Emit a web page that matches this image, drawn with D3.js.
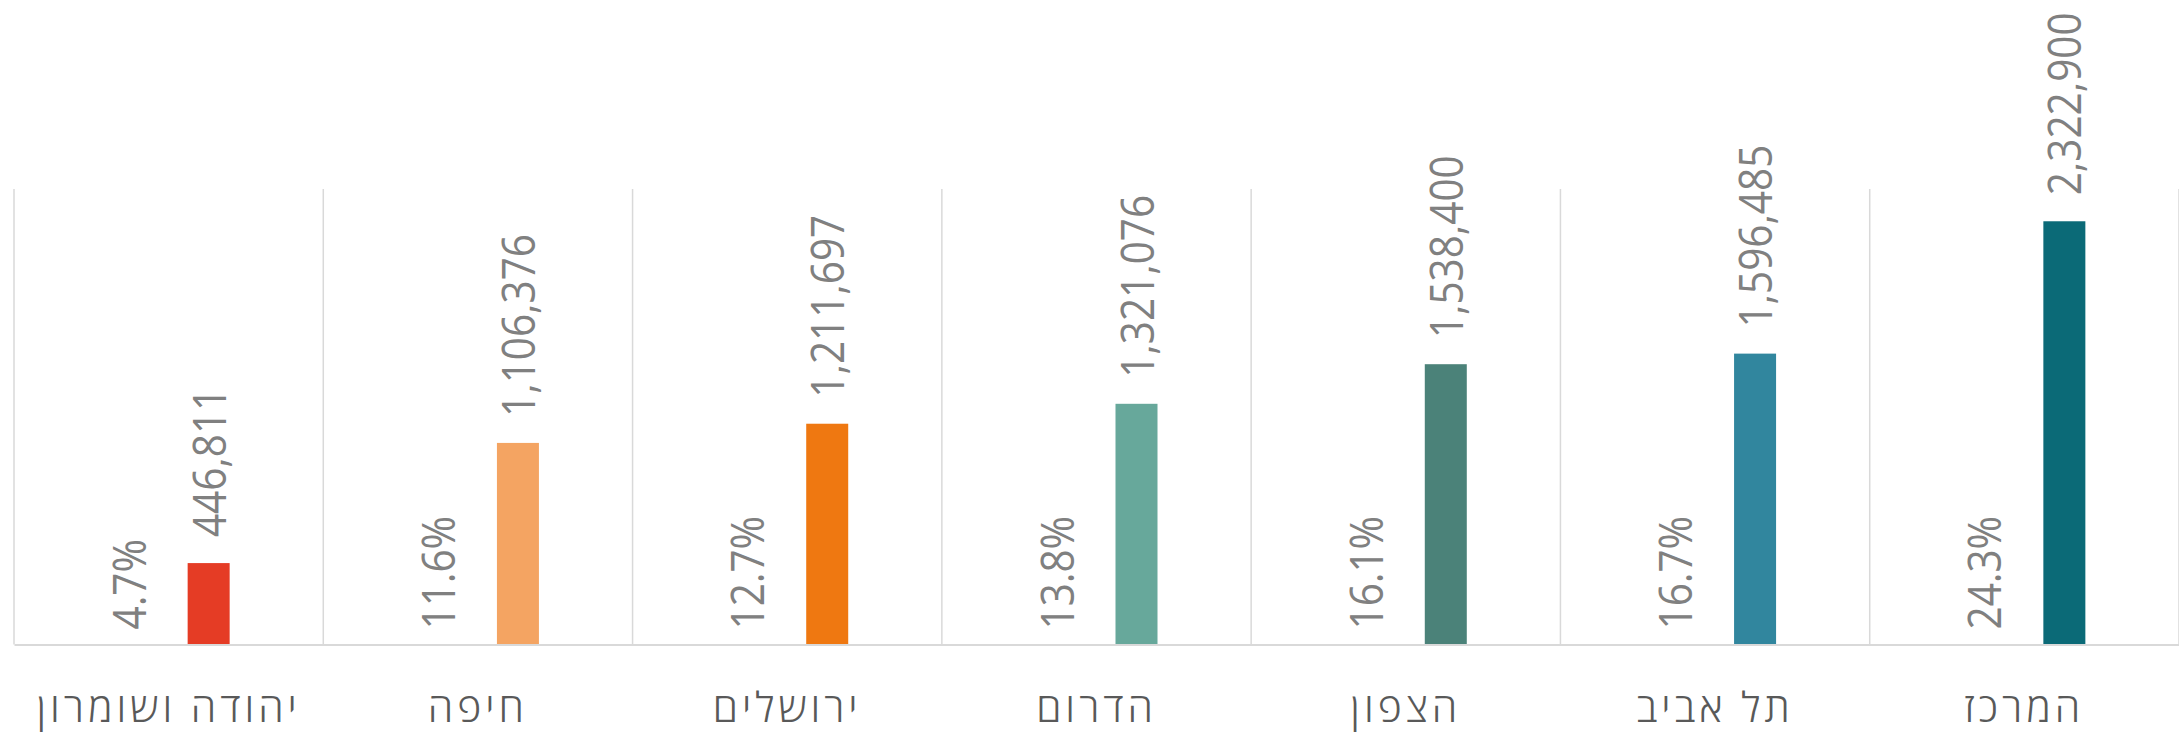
<!DOCTYPE html>
<html lang="he">
<head>
<meta charset="utf-8">
<script src="https://cdn.jsdelivr.net/npm/d3@7"></script>
<style>
  html, body { margin: 0; padding: 0; background: #ffffff; }
  svg { display: block; }
</style>
</head>
<body>
<svg id="chart" width="2179" height="736"></svg>
<script>
// ---- data (first category is drawn on the right: RTL order) ----
const categories = ["המרכז", "תל אביב", "הצפון", "הדרום", "ירושלים", "חיפה", "יהודה ושומרון"];
const populationValues = [2322900, 1596485, 1538400, 1321076, 1211697, 1106376, 446811];
const shareLabels = ["24.3%", "16.7%", "16.1%", "13.8%", "12.7%", "11.6%", "4.7%"];
const barColors = ["#0b6a77", "#31869e", "#4b8279", "#67a89b", "#ef7811", "#f4a462", "#e53c25"];
const yDomain = [0, 2500000];

// ---- layout ----
const W = 2179, H = 736;
const plot = { left: 14, right: 2179, top: 189, bottom: 644.5 };
const svg = d3.select("#chart");

const x = d3.scaleBand().domain(categories).range([plot.right, plot.left]).padding(0);
const slot = d3.scalePoint().domain(["share", "value"]).range([-40, 40]);
const y = d3.scaleLinear().domain(yDomain).range([plot.bottom, plot.top]);

const barWidth = 42;
const fmt = d3.format(",");
const labelFont = "'Open Sans', 'Noto Sans', 'DejaVu Sans', sans-serif";
const rows = categories.map((c, i) => ({
  cat: c, value: populationValues[i], share: shareLabels[i], color: barColors[i]
}));
const center = d => x(d.cat) + x.bandwidth() / 2;

// vertical category separators
const bounds = categories.map(c => x(c)).concat([plot.right]);
svg.append("g").selectAll("line").data(bounds).join("line")
  .attr("x1", d => d).attr("x2", d => d)
  .attr("y1", plot.top).attr("y2", plot.bottom)
  .attr("stroke", "#d9d9d9").attr("stroke-width", 1.5);

// bars
svg.append("g").selectAll("rect").data(rows).join("rect")
  .attr("x", d => center(d) + slot("value") - barWidth / 2)
  .attr("width", barWidth)
  .attr("y", d => y(d.value))
  .attr("height", d => y(0) - y(d.value))
  .attr("fill", d => d.color);

// baseline (category axis)
const xAxis = d3.axisBottom(x).tickSize(0).tickFormat("");
svg.append("g").attr("transform", `translate(0,${y(0)})`).call(xAxis)
  .call(g => g.select(".domain").attr("stroke", "#d9d9d9").attr("stroke-width", 2));

// value labels (rotated, above the bars)
svg.append("g").selectAll("text").data(rows).join("text")
  .attr("transform", d => `translate(${center(d) + slot("value") + 17},${y(d.value) - 26}) rotate(-90) scale(0.88,1)`)
  .attr("text-anchor", "start")
  .attr("font-family", labelFont)
  .attr("font-size", 46)
  .attr("fill", "#808080")
  .text(d => fmt(d.value));

// share labels (rotated, at the base of the empty slot)
svg.append("g").selectAll("text").data(rows).join("text")
  .attr("transform", d => `translate(${center(d) + slot("share") + 17},${y(0) - 15}) rotate(-90) scale(0.88,1)`)
  .attr("text-anchor", "start")
  .attr("font-family", labelFont)
  .attr("font-size", 46)
  .attr("fill", "#808080")
  .text(d => d.share);

// category labels
svg.append("g").selectAll("text").data(rows).join("text")
  .attr("x", d => center(d))
  .attr("y", 722)
  .attr("text-anchor", "middle")
  .attr("direction", "rtl")
  .attr("font-family", labelFont)
  .attr("font-size", 41)
  .attr("font-weight", 300)
  .attr("letter-spacing", 4)
  .attr("fill", "#595959")
  .text(d => d.cat);
</script>
</body>
</html>
